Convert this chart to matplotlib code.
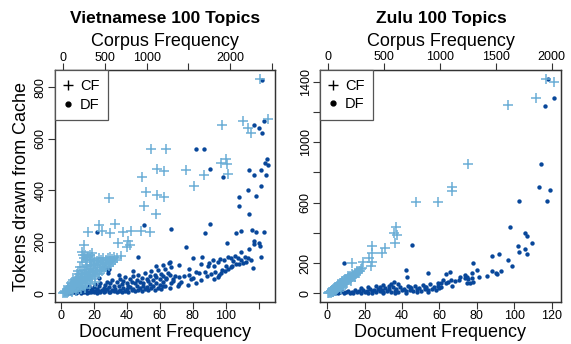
import numpy as np
import matplotlib
matplotlib.use("Agg")
import matplotlib.pyplot as plt
from matplotlib.lines import Line2D

plt.rcParams['font.family'] = ['Liberation Sans', 'DejaVu Sans']

# ---------------- Vietnamese data ----------------
# corpus frequency vs tokens drawn from cache (light blue +)
vi_cf_x = [2360, 2460, 2152, 1900, 2220, 2252, 1052, 1228, 1128, 1212, 1472, 940, 1688, 1572,
           988, 1120, 1212, 968, 1112, 548, 1952, 1888, 1960, 1980,
           432, 620, 292, 460, 560, 720, 812, 932, 1040, 772, 800, 760, 652, 692, 252, 228, 260,
           0, 10, 20, 25, 30, 40, 45, 50, 55, 60, 70, 75, 80, 90, 95, 100, 105, 110, 120, 125,
           130, 140, 145, 150, 155, 160, 170, 175, 180, 185, 190, 200, 205, 210, 220, 225, 230,
           240, 245, 250, 255, 260, 270, 275, 280, 285, 290, 300, 305, 310, 315, 320, 330, 335,
           340, 350, 355, 360, 365, 370, 380, 385, 390, 400, 405, 410, 420, 425, 430, 440, 445,
           450, 460, 470, 475, 480, 490, 500, 510, 515, 525, 535, 545, 555, 565, 575, 585, 600,
           610, 625, 640, 210, 260, 320, 380, 150, 90, 60, 120, 230, 250, 270, 290, 200, 180,
           160, 240, 300, 320, 350]
vi_cf_y = [831, 676, 667, 652, 641, 621, 560, 560, 483, 476, 479, 453, 458, 415,
           395, 382, 375, 340, 308, 369, 520, 507, 501, 462,
           265, 268, 237, 240, 233, 236, 243, 243, 237, 201, 188, 179, 197, 145, 188, 162, 149,
           0, 3, 1, 8, 4, 12, 2, 9, 18, 5, 14, 22, 8, 18, 28, 6, 24, 35, 14, 30,
           42, 20, 36, 10, 48, 28, 40, 55, 18, 34, 62, 26, 46, 70, 38, 55, 80,
           30, 64, 90, 48, 74, 100, 40, 58, 84, 110, 50, 70, 95, 120, 62, 82, 105,
           128, 55, 75, 92, 115, 132, 68, 88, 108, 125, 80, 98, 118, 135, 75, 92, 110,
           128, 85, 102, 120, 138, 95, 112, 130, 100, 118, 136, 105, 125, 140, 115, 132, 120,
           142, 128, 135, 15, 22, 35, 45, 60, 40, 30, 50, 120, 135, 128, 140, 100, 85,
           75, 150, 145, 150, 155]

# document frequency vs tokens drawn from cache (dark blue dots)
vi_df_x = [121.9, 117.4, 120.4, 123.3, 122.3, 124.9, 124.1, 125.5, 121.5, 114.4, 117.4, 124.3,
           121.5, 113.4, 90.5, 98.6, 81.8, 86.8, 108.3, 118.4, 108.3, 114.4, 66.6, 90.5, 87.7,
           106.3, 109.5, 116.2, 118.4, 123.3, 75.9, 100.6, 117.4, 117.4, 120.4, 120.9, 114.4,
           109.5, 121.3, 116.4, 85.4, 80.0, 101.2, 92.5, 96.6, 65.8, 71.9, 77.7, 84.8, 89.9,
           89.5, 93.1, 95.5, 50.6, 47.0, 22.0, 29.4,
           103.4, 105.5, 107.5, 109.5, 111.5, 113.5, 115.5, 112.3, 104.5, 99.0, 106.5, 110.5,
           82.0, 84.0, 87.4, 93.5, 74.9, 71.9, 69.2, 85.0, 93.1, 95.5, 76.9, 82.0, 70.9,
           97.5, 99.5, 101.5, 103.5, 96.0, 91.0, 88.5, 79.0, 73.0, 67.0, 64.0, 62.0, 66.0, 68.0,
           72.0, 78.0, 80.0, 98.0, 104.0, 108.0, 100.5,
           4, 5, 6, 7, 8, 9, 10, 11, 12, 13, 14, 15, 16, 17, 18, 19, 20, 21, 22, 23, 24, 25,
           26, 27, 28, 29, 30, 31, 32, 33, 34, 35, 36, 37, 38, 39, 40, 41, 42, 43, 44, 45, 46,
           47, 48, 49, 50, 51, 52, 53, 54, 55, 56, 57, 58, 59, 60, 61, 62, 63,
           9, 10, 12, 13, 14, 16, 17, 18, 20, 21, 22, 23, 24, 26, 27, 28, 29, 30, 31, 32, 34,
           35, 36, 37, 38, 39, 40, 41, 42, 43, 44, 45, 46, 47, 48, 49, 50, 51, 52, 53, 54, 55,
           56, 57, 58, 59, 60, 61, 62, 63, 64, 65, 66, 67, 68,
           28.7, 23, 35, 44, 58, 62, 66, 26.7, 28.7]
vi_df_y = [827, 652, 643, 667, 624, 520, 506, 498, 479, 478, 458, 460,
           417, 400, 484, 452, 562, 559, 375, 379, 340, 308, 249, 268, 232,
           232, 242, 245, 236, 237, 181, 194, 203, 190, 194, 184, 172,
           162, 142, 97, 139, 136, 142, 129, 133, 119, 110, 93, 114, 119,
           106, 106, 123, 265, 142, 236, 94,
           137, 145, 137, 130, 140, 135, 128, 120, 125, 128, 112, 118,
           84, 80, 82, 84, 67, 62, 67, 52, 54, 62, 32, 39, 28,
           80, 88, 93, 100, 70, 75, 68, 55, 45, 40, 55, 30, 20, 48,
           35, 72, 60, 92, 105, 113, 104,
           2, 5, 1, 3, 6, 2, 4, 8, 1, 5, 3, 9, 2, 6, 4, 11, 3, 7, 2, 10, 5, 13,
           4, 8, 15, 6, 3, 12, 7, 18, 5, 10, 14, 4, 20, 9, 16, 6, 24, 11, 18, 8, 27,
           13, 21, 9, 30, 16, 24, 12, 35, 19, 28, 14, 40, 22, 33, 18, 45, 27,
           14, 22, 17, 26, 12, 20, 28, 15, 25, 34, 18, 30, 40, 22, 33, 45, 26, 38, 50, 30, 42,
           28, 55, 35, 48, 62, 40, 30, 55, 45, 68, 38, 52, 72, 45, 60, 40, 78, 55, 48, 66, 85,
           50, 72, 62, 90, 55, 75, 68, 95, 60, 80, 72, 100, 55,
           78, 60, 70, 85, 105, 110, 120, 101, 91]

# ---------------- Zulu data ----------------
zu_cf_x = [1949, 2024, 1860, 1612, 1254, 1104, 1110, 782, 985, 606, 588, 618, 597, 394, 507,
           478, 388, 367, 388, 307, 382, 215, 299, 254,
           0, 10, 15, 20, 25, 30, 35, 40, 45, 50, 55, 60, 65, 70, 75, 80, 85, 90, 95, 100, 105,
           110, 115, 120, 125, 130, 135, 140, 145, 150, 155, 160, 165, 170, 175, 180, 185, 190,
           195, 200, 210, 215, 220, 230, 235, 240, 250, 255, 265, 275, 285, 290, 30, 60, 90,
           120, 150, 180, 70, 110, 160, 200, 240, 20, 45, 5, 130, 100]
zu_cf_y = [1415, 1400, 1290, 1246, 855, 705, 680, 606, 606, 441, 401, 386, 331, 313, 298,
           265, 265, 231, 209, 209, 181, 203, 165, 143,
           0, 5, 12, 2, 15, 8, 22, 12, 28, 18, 35, 20, 40, 28, 48, 32, 52, 38, 58, 42, 64,
           48, 70, 55, 75, 60, 82, 66, 88, 72, 92, 78, 98, 84, 104, 88, 110, 95,
           115, 100, 108, 125, 112, 118, 135, 125, 130, 145, 138, 150, 145, 160, 25, 45, 60,
           80, 95, 118, 15, 30, 60, 82, 105, 15, 10, 8, 45, 70]

zu_df_x = [118.2, 121.3, 116.4, 114.3, 113.4, 119.1, 102.7, 117.3, 97.7, 105.7, 106.6, 109.7,
           101.8, 105.7, 102.7, 106.6, 96.8, 98.8, 87.9, 92.0, 78.1, 80.2, 87.9, 90.2, 90.9,
           92.9, 85.2, 81.3, 65.6, 63.5, 77.2, 73.6, 74.5, 75.4, 73.6, 77.2, 74.5, 76.3, 78.1,
           71.0, 70.6, 68.3, 66.2, 64.7, 62.1, 63.5, 66.5, 60.8,
           8.9, 45.1, 42.1, 42.4, 54.0, 35.7, 59.4,
           4, 5, 6, 7, 8, 9, 10, 11, 12, 13, 14, 15, 16, 17, 18, 19, 20, 21, 22, 23, 24, 25,
           26, 27, 28, 29, 30, 31, 32, 33, 34, 35, 36, 37, 38, 39, 40, 41, 42, 43, 44, 45, 46,
           47, 48, 49, 50, 51, 52, 53, 54, 55, 56, 57, 58, 59, 60, 61,
           18, 22, 26, 30, 34, 38, 24, 30, 36, 42, 48, 54, 28, 33, 44, 52]
zu_df_y = [1415, 1290, 1241, 855, 701, 683, 611, 611, 441, 397, 381, 331,
           313, 293, 271, 260, 220, 183, 247, 258, 203, 154, 150, 137, 128,
           148, 115, 106, 143, 126, 137, 121, 106, 93, 99, 99, 71, 71, 77,
           106, 88, 84, 88, 77, 88, 66, 49, 71,
           198, 320, 154, 110, 132, 77, 71,
           3, 10, 1, 6, 14, 3, 8, 18, 2, 11, 5, 22, 8, 15, 3, 25, 10, 18, 5, 28, 13, 20,
           7, 32, 15, 24, 9, 35, 17, 26, 11, 40, 19, 28, 12, 45, 22, 30, 14, 48, 25, 33, 16,
           52, 27, 36, 18, 55, 30, 40, 22, 60, 32, 45, 25, 50, 35, 42,
           38, 45, 52, 55, 60, 65, 2, 1, 4, 2, 6, 8, 42, 50, 40, 45]

light = '#6baed6'
dark = '#08479a'
frame = '#333333'

fig = plt.figure(figsize=(5.71, 3.44), dpi=100)

panels = [
    dict(rect=[0.0963, 0.1221, 0.3853, 0.6730], title='Vietnamese 100 Topics',
         cfx=vi_cf_x, cfy=vi_cf_y, dfx=vi_df_x, dfy=vi_df_y,
         dflim=(-3.6, 130), cflim=(-100, 2540), ylim=(-34, 865),
         dfticks=[0, 20, 40, 60, 80, 100, 120], dflabels=['0', '20', '40', '60', '80', '100', ''],
         cfticks=[0, 500, 1000, 1500, 2000, 2500], cflabels=['0', '500', '1000', '', '2000', ''],
         yticks=[0, 200, 400, 600, 800], ylabels=['0', '200', '400', '600', '800'],
         tx=0.289),
    dict(rect=[0.5604, 0.1221, 0.4221, 0.6744], title='Zulu 100 Topics',
         cfx=zu_cf_x, cfy=zu_cf_y, dfx=zu_df_x, dfy=zu_df_y,
         dflim=(-3.9, 125), cflim=(-75, 2084), ylim=(-57, 1477),
         dfticks=[0, 20, 40, 60, 80, 100, 120], dflabels=['0', '20', '40', '60', '80', '100', '120'],
         cfticks=[0, 500, 1000, 1500, 2000], cflabels=['0', '500', '1000', '1500', '2000'],
         yticks=[0, 200, 400, 600, 800, 1000, 1200, 1400],
         ylabels=['0', '200', '', '600', '', '1000', '', '1400'],
         tx=0.7735),
]

for i, p in enumerate(panels):
    ax = fig.add_axes(p['rect'])
    ax.scatter(p['dfx'], p['dfy'], s=10, color=dark, marker='o', linewidths=0, zorder=2)
    ax.set_xlim(*p['dflim'])
    ax.set_ylim(*p['ylim'])
    ax.set_xticks(p['dfticks'])
    ax.set_xticklabels(p['dflabels'])
    ax.set_yticks(p['yticks'])
    ax.set_yticklabels(p['ylabels'], rotation=90, va='center')
    ax.set_xlabel('Document Frequency', fontsize=13, labelpad=1.5)
    if i == 0:
        ax.set_ylabel('Tokens drawn from Cache', fontsize=13, labelpad=3)

    ax2 = ax.twiny()
    ax2.scatter(p['cfx'], p['cfy'], s=55, color=light, marker='+', linewidths=1.1, zorder=3)
    ax2.set_xlim(*p['cflim'])
    ax2.set_xticks(p['cfticks'])
    ax2.set_xticklabels(p['cflabels'])
    ax2.set_xlabel('Corpus Frequency', fontsize=13, labelpad=4)

    for a in (ax, ax2):
        a.tick_params(direction='out', length=5, width=0.8, color=frame,
                      labelsize=9, pad=1)
        for sp in a.spines.values():
            sp.set_color(frame)
            sp.set_linewidth(0.9)
    ax2.tick_params(axis='x', pad=0)

    handles = [Line2D([], [], marker='+', color='k', ls='none', markersize=7, mew=1),
               Line2D([], [], marker='o', color='k', ls='none', markersize=3.5)]
    leg = ax2.legend(handles, ['CF', 'DF'], loc='upper left', borderaxespad=0,
                     fancybox=False, framealpha=1, edgecolor='#555555', fontsize=10.5,
                     handlelength=0.6, handletextpad=0.5, borderpad=0.6, labelspacing=0.3)
    leg.get_frame().set_linewidth(0.9)

    fig.text(p['tx'], 0.946, p['title'], ha='center', va='center',
             fontsize=12.5, fontweight='bold')

fig.savefig('out.png', dpi=100)
